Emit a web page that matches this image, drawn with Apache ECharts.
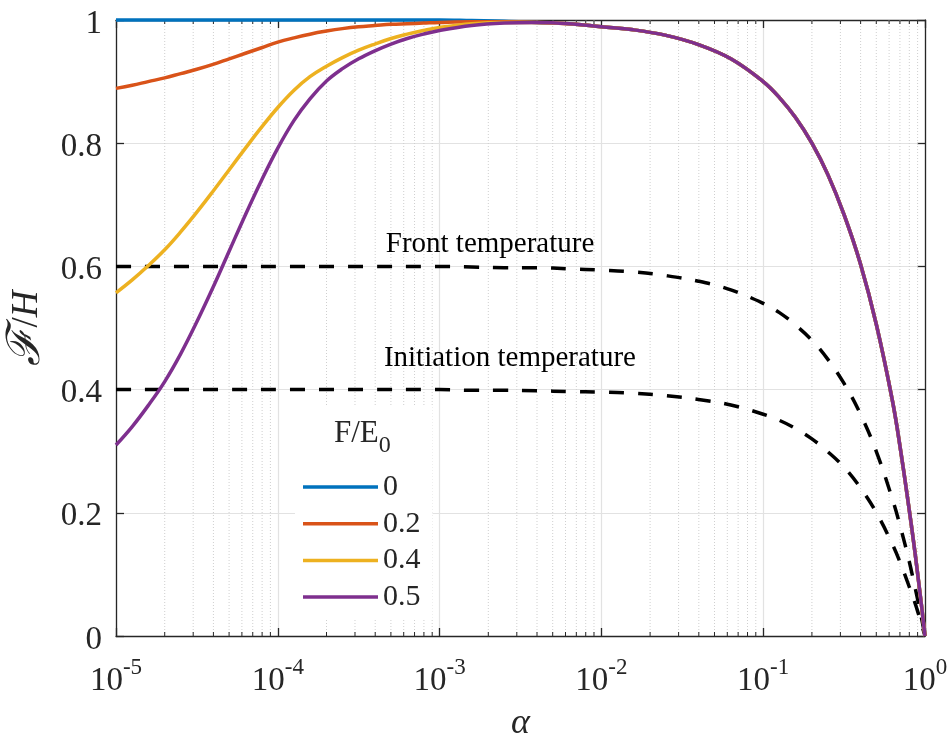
<!DOCTYPE html>
<html>
<head>
<meta charset="utf-8">
<title>F/H versus alpha</title>
<script src="https://cdn.jsdelivr.net/npm/echarts@6/dist/echarts.min.js"></script>
<style>
  html, body { margin: 0; padding: 0; background: #fff; }
  #chart { width: 951px; height: 733px; }
</style>
</head>
<body>
<div id="chart"></div>
<script>
// Sampled alpha values (log-spaced, denser near alpha = 1)
const alpha = [
  1e-5, 1.26e-5, 1.58e-5, 2e-5, 2.51e-5, 3.16e-5, 3.98e-5, 5.01e-5, 6.31e-5, 7.94e-5,
  1e-4, 1.26e-4, 1.58e-4, 2e-4, 2.51e-4, 3.16e-4, 3.98e-4, 5.01e-4, 6.31e-4, 7.94e-4,
  1e-3, 1.58e-3, 2.51e-3, 3.98e-3, 6.31e-3,
  1e-2, 1.58e-2, 2.51e-2, 3.98e-2, 6.31e-2,
  0.1, 0.126, 0.158, 0.2, 0.251, 0.316, 0.398, 0.501, 0.631, 0.708,
  0.794, 0.851, 0.891, 0.933, 0.955, 0.977, 1
];

// F/E0 = 0
const fE0_0 = [
  1, 1, 1, 1, 1, 1, 1, 1, 1, 1,
  1, 1, 1, 1, 1, 1, 1, 1, 1, 1,
  1, 0.999, 0.998, 0.996, 0.994,
  0.989, 0.984, 0.975, 0.96, 0.937,
  0.9, 0.874, 0.842, 0.8, 0.749, 0.684, 0.605, 0.505, 0.38, 0.3,
  0.21, 0.152, 0.111, 0.068, 0.046, 0.023, 0
];

// F/E0 = 0.2
const fE0_02 = [
  0.889, 0.894, 0.9, 0.906, 0.913, 0.92, 0.928, 0.937, 0.946, 0.955,
  0.964, 0.971, 0.977, 0.982, 0.986, 0.989, 0.991, 0.993, 0.994, 0.995,
  0.996, 0.997, 0.997, 0.996, 0.994,
  0.989, 0.984, 0.975, 0.96, 0.937,
  0.9, 0.874, 0.842, 0.8, 0.749, 0.684, 0.605, 0.505, 0.38, 0.3,
  0.21, 0.152, 0.111, 0.068, 0.046, 0.023, 0
];

// F/E0 = 0.4
const fE0_04 = [
  0.557, 0.578, 0.601, 0.627, 0.656, 0.688, 0.722, 0.757, 0.792, 0.826,
  0.858, 0.886, 0.908, 0.925, 0.939, 0.951, 0.961, 0.97, 0.977, 0.983,
  0.988, 0.994, 0.996, 0.996, 0.994,
  0.989, 0.984, 0.975, 0.96, 0.937,
  0.9, 0.874, 0.842, 0.8, 0.749, 0.684, 0.605, 0.505, 0.38, 0.3,
  0.21, 0.152, 0.111, 0.068, 0.046, 0.023, 0
];

// F/E0 = 0.5
const fE0_05 = [
  0.31, 0.34, 0.374, 0.413, 0.458, 0.51, 0.566, 0.625, 0.684, 0.74,
  0.792, 0.837, 0.872, 0.901, 0.921, 0.937, 0.95, 0.961, 0.97, 0.977,
  0.983, 0.991, 0.995, 0.996, 0.994,
  0.989, 0.984, 0.975, 0.96, 0.937,
  0.9, 0.874, 0.842, 0.8, 0.749, 0.684, 0.605, 0.505, 0.38, 0.3,
  0.21, 0.152, 0.111, 0.068, 0.046, 0.023, 0
];

// Front temperature (dashed)
const frontTemp = [
  0.6, 0.6, 0.6, 0.6, 0.6, 0.6, 0.6, 0.6, 0.6, 0.6,
  0.6, 0.6, 0.6, 0.6, 0.6, 0.6, 0.6, 0.6, 0.6, 0.6,
  0.6, 0.599, 0.598, 0.598, 0.596,
  0.594, 0.591, 0.585, 0.576, 0.562,
  0.54, 0.525, 0.505, 0.48, 0.449, 0.41, 0.361, 0.299, 0.221, 0.175,
  0.124, 0.089, 0.065, 0.04, 0.027, 0.014, 0
];

// Initiation temperature (dashed)
const initTemp = [
  0.4, 0.4, 0.4, 0.4, 0.4, 0.4, 0.4, 0.4, 0.4, 0.4,
  0.4, 0.4, 0.4, 0.4, 0.4, 0.4, 0.4, 0.4, 0.4, 0.4,
  0.4, 0.399, 0.399, 0.398, 0.397,
  0.396, 0.394, 0.39, 0.384, 0.375,
  0.36, 0.35, 0.337, 0.32, 0.299, 0.274, 0.241, 0.2, 0.148, 0.117,
  0.082, 0.06, 0.044, 0.027, 0.018, 0.009, 0
];

const seriesNames = ['0', '0.2', '0.4', '0.5'];
const seriesValues = [fE0_0, fE0_02, fE0_04, fE0_05];
const seriesColors = ['#0072BD', '#D95319', '#EDB120', '#7E2F8E'];

const yTicks = [0, 0.2, 0.4, 0.6, 0.8, 1];
const yTickLabels = ['0', '0.2', '0.4', '0.6', '0.8', '1'];

// Annotation anchors in data coordinates [alpha, F/H]
const frontLabelAt = [2.05e-3, 0.636];
const initLabelAt = [2.72e-3, 0.451];

// Minor ticks of the log axis: 2..9 within each decade
const decades = [1e-5, 1e-4, 1e-3, 1e-2, 1e-1];
const minorTicks = [];
decades.forEach(d => { for (let k = 2; k <= 9; k++) minorTicks.push([k * d, 0]); });

const SERIF = '"Liberation Serif", "DejaVu Serif", serif';
const AXIS_COLOR = '#262626';
const pairs = vals => alpha.map((a, i) => [a, vals[i]]);

const chart = echarts.init(document.getElementById('chart'), null, { renderer: 'canvas' });

const lineSeries = seriesNames.map((name, i) => ({
  name: name,
  type: 'line',
  data: pairs(seriesValues[i]),
  symbol: 'none',
  showSymbol: false,
  smooth: 0.4,
  clip: false,
  z: 4 + i,
  color: seriesColors[i],
  lineStyle: { color: seriesColors[i], width: 3.5 },
  emphasis: { disabled: true }
}));

const dashedSeries = (name, vals, at, text) => ({
  name: name,
  type: 'line',
  data: pairs(vals),
  symbol: 'none',
  showSymbol: false,
  smooth: 0.4,
  clip: false,
  z: 3,
  lineStyle: { color: '#000', width: 3.5, type: [15, 14] },
  emphasis: { disabled: true },
  markPoint: {
    symbol: 'circle',
    symbolSize: 0,
    silent: true,
    label: {
      show: true,
      position: 'inside',
      formatter: text,
      fontFamily: SERIF,
      fontSize: 29,
      color: '#000'
    },
    data: [{ coord: at }]
  }
});

const option = {
  animation: false,
  backgroundColor: '#fff',
  grid: { left: 116, right: 26, top: 20, bottom: 97, containLabel: false, outerBoundsMode: 'none' },
  xAxis: [
    {
      type: 'log',
      logBase: 10,
      min: 1e-5,
      max: 1,
      position: 'bottom',
      axisLine: { show: true, onZero: false, lineStyle: { color: AXIS_COLOR, width: 1.3 } },
      axisTick: { show: true, inside: true, length: 8, lineStyle: { color: AXIS_COLOR, width: 1.3 } },
      splitLine: { show: true, lineStyle: { color: '#e2e2e2', width: 1.2 } },
      axisLabel: {
        margin: 20,
        formatter: v => '{b|10}{s|' + Math.round(Math.log10(v)) + '}',
        rich: {
          b: { fontFamily: SERIF, fontSize: 33, color: AXIS_COLOR },
          s: { fontFamily: SERIF, fontSize: 23, color: AXIS_COLOR, padding: [0, 0, 28, 0] }
        }
      },
      name: 'α',
      nameLocation: 'middle',
      nameGap: 88,
      nameTextStyle: { fontFamily: SERIF, fontSize: 36, fontStyle: 'italic', color: AXIS_COLOR, verticalAlign: 'middle' }
    },
    {
      type: 'log',
      logBase: 10,
      min: 1e-5,
      max: 1,
      position: 'top',
      axisLine: { show: true, onZero: false, lineStyle: { color: AXIS_COLOR, width: 1.3 } },
      axisTick: { show: true, inside: true, length: 8, lineStyle: { color: AXIS_COLOR, width: 1.3 } },
      splitLine: { show: false },
      axisLabel: { show: false }
    }
  ],
  yAxis: [
    {
      type: 'value',
      min: 0,
      max: 1,
      interval: 0.2,
      position: 'left',
      axisLine: { show: true, onZero: false, lineStyle: { color: AXIS_COLOR, width: 1.3 } },
      axisTick: { show: true, inside: true, length: 8, lineStyle: { color: AXIS_COLOR, width: 1.3 } },
      splitLine: { show: true, lineStyle: { color: '#e2e2e2', width: 1.2 } },
      axisLabel: {
        margin: 14,
        formatter: v => {
          const k = yTicks.findIndex(t => Math.abs(t - v) < 1e-9);
          return k >= 0 ? '{v|' + yTickLabels[k] + '}' : '';
        },
        rich: {
          v: { fontFamily: SERIF, fontSize: 33, color: AXIS_COLOR, padding: [8, 0, 0, 0] }
        }
      },
      name: '{f|ℱ}{r|/}{h|H}',
      nameLocation: 'middle',
      nameRotate: 90,
      nameGap: 86,
      nameTextStyle: {
        verticalAlign: 'middle',
        rich: {
          f: { fontFamily: SERIF, fontSize: 46, fontStyle: 'italic', color: AXIS_COLOR },
          r: { fontFamily: SERIF, fontSize: 37, color: AXIS_COLOR },
          h: { fontFamily: SERIF, fontSize: 37, fontStyle: 'italic', color: AXIS_COLOR }
        }
      }
    },
    {
      type: 'value',
      min: 0,
      max: 1,
      interval: 0.2,
      position: 'right',
      axisLine: { show: true, onZero: false, lineStyle: { color: AXIS_COLOR, width: 1.3 } },
      axisTick: { show: true, inside: true, length: 8, lineStyle: { color: AXIS_COLOR, width: 1.3 } },
      splitLine: { show: false },
      axisLabel: { show: false }
    }
  ],
  legend: {
    data: seriesNames.map(n => ({ name: n, icon: 'rect' })),
    orient: 'vertical',
    left: 295,
    top: 405,
    padding: [67, 12, 8, 8],
    backgroundColor: '#fff',
    itemWidth: 75,
    itemHeight: 3.5,
    itemGap: 6.7,
    selectedMode: false,
    textStyle: { fontFamily: SERIF, fontSize: 30, lineHeight: 30, color: AXIS_COLOR }
  },
  graphic: [
    {
      type: 'text',
      z: 100,
      left: 334,
      top: 418,
      style: {
        text: '{a|F/E}{b|0}',
        rich: {
          a: { fontFamily: SERIF, fontSize: 31, fill: AXIS_COLOR },
          b: { fontFamily: SERIF, fontSize: 24, fill: AXIS_COLOR, padding: [24, 0, 0, 0] }
        }
      }
    }
  ],
  series: [
    {
      name: 'minor',
      type: 'custom',
      silent: true,
      z: 1,
      clip: false,
      data: minorTicks,
      encode: { x: 0, y: 1 },
      renderItem: (params, api) => {
        const v = api.value(0);
        const pb = api.coord([v, 0]);
        const pt = api.coord([v, 1]);
        return {
          type: 'group',
          children: [
            { type: 'line', shape: { x1: pb[0], y1: pb[1], x2: pt[0], y2: pt[1] },
              style: { stroke: '#cfcfcf', lineWidth: 1, lineDash: [1, 2] } },
            { type: 'line', shape: { x1: pb[0], y1: pb[1], x2: pb[0], y2: pb[1] - 4 },
              style: { stroke: AXIS_COLOR, lineWidth: 1 } },
            { type: 'line', shape: { x1: pt[0], y1: pt[1], x2: pt[0], y2: pt[1] + 4 },
              style: { stroke: AXIS_COLOR, lineWidth: 1 } }
          ]
        };
      }
    },
    dashedSeries('Front temperature', frontTemp, frontLabelAt, 'Front temperature'),
    dashedSeries('Initiation temperature', initTemp, initLabelAt, 'Initiation temperature'),
    ...lineSeries
  ]
};

chart.setOption(option);
</script>
</body>
</html>
